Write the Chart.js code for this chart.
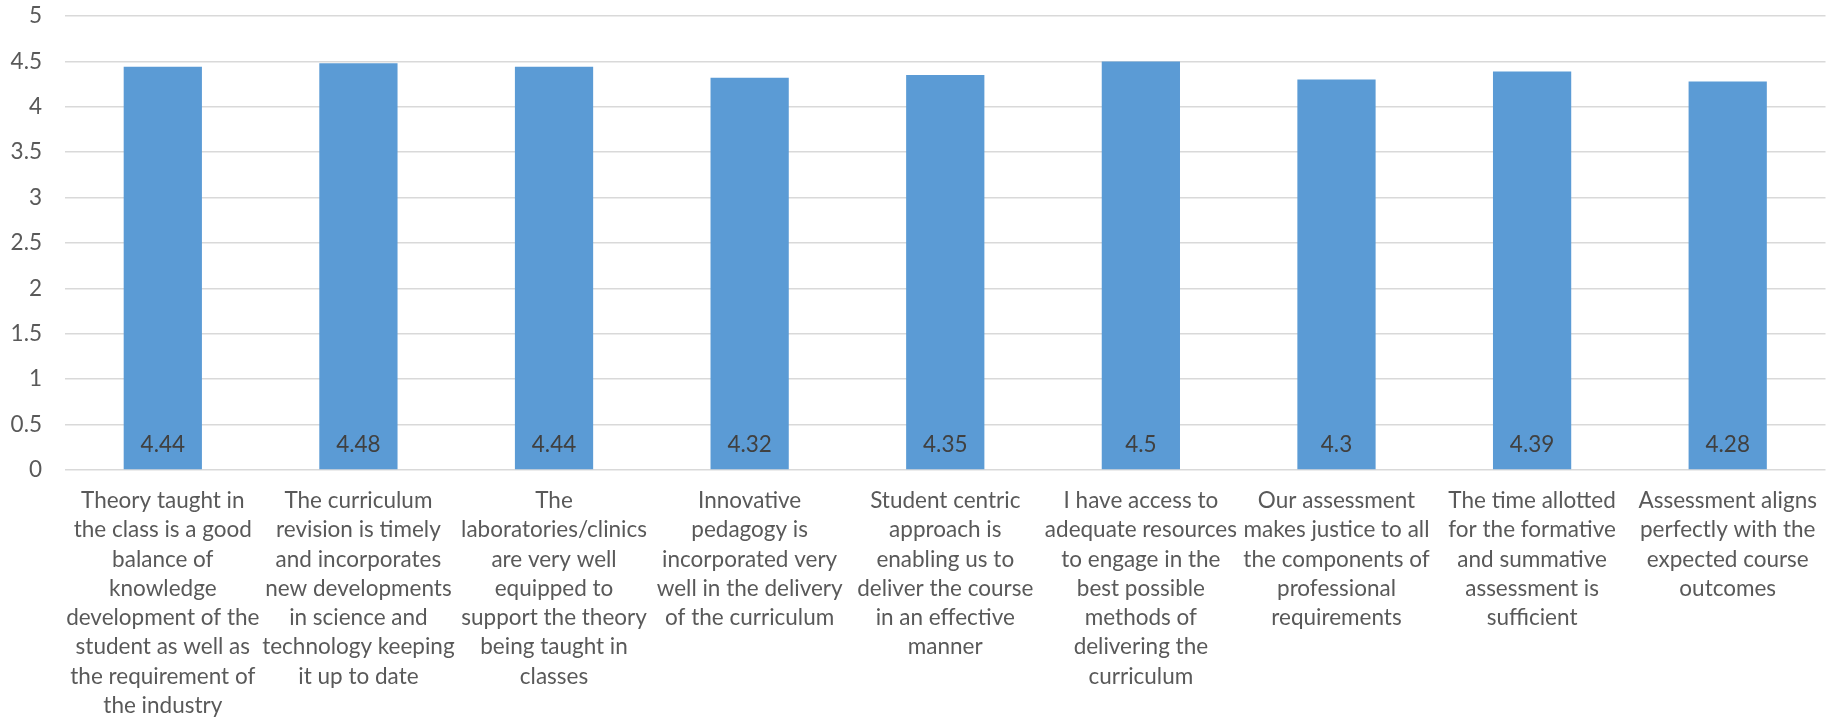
<!DOCTYPE html>
<html>
<head>
<meta charset="utf-8">
<title>Course feedback</title>
<script src="https://cdn.jsdelivr.net/npm/chart.js@4.4.1/dist/chart.umd.min.js"></script>
<style>
    html, body { margin: 0; padding: 0; background: #ffffff; }
    #wrap { width: 1833px; height: 719px; position: relative; }
</style>
</head>
<body>
<div id="wrap"><canvas id="feedbackChart"></canvas></div>
<script>
// categories (already wrapped the same way as the picture)
const categories = [
    ['Theory taught in', 'the class is a good', 'balance of', 'knowledge', 'development of the', 'student as well as', 'the requirement of', 'the industry'],
    ['The curriculum', 'revision is timely', 'and incorporates', 'new developments', 'in science and', 'technology keeping', 'it up to date'],
    ['The', 'laboratories/clinics', 'are very well', 'equipped to', 'support the theory', 'being taught in', 'classes'],
    ['Innovative', 'pedagogy is', 'incorporated very', 'well in the delivery', 'of the curriculum'],
    ['Student centric', 'approach is', 'enabling us to', 'deliver the course', 'in an effective', 'manner'],
    ['I have access to', 'adequate resources', 'to engage in the', 'best possible', 'methods of', 'delivering the', 'curriculum'],
    ['Our assessment', 'makes justice to all', 'the components of', 'professional', 'requirements'],
    ['The time allotted', 'for the formative', 'and summative', 'assessment is', 'sufficient'],
    ['Assessment aligns', 'perfectly with the', 'expected course', 'outcomes']
];

// mean scores
const scores = [4.44, 4.48, 4.44, 4.32, 4.35, 4.5, 4.3, 4.39, 4.28];

// y axis
const yMin = 0;
const yMax = 5;
const yStep = 0.5;

const FONT = 'Lato, "Open Sans", sans-serif';
const FONT_SIZE = 22.5;

// value labels at the bottom of every bar (no datalabels plugin available)
const valueLabels = {
    id: 'valueLabels',
    afterDatasetsDraw(chart) {
        const ctx = chart.ctx;
        const meta = chart.getDatasetMeta(0);
        const bottom = chart.chartArea.bottom;
        ctx.save();
        ctx.font = FONT_SIZE + 'px ' + FONT;
        ctx.fillStyle = '#404040';
        ctx.textAlign = 'center';
        ctx.textBaseline = 'middle';
        meta.data.forEach(function (bar, i) {
            ctx.fillText(String(scores[i]), bar.x, bottom - 25);
        });
        ctx.restore();
    }
};

function dibujarGrafico() {
    const ctx = document.getElementById('feedbackChart').getContext('2d');
    new Chart(ctx, {
        type: 'bar',
        data: {
            labels: categories,
            datasets: [{
                data: scores,
                backgroundColor: '#5B9BD5',
                borderWidth: 0,
                categoryPercentage: 1,
                barPercentage: 0.4
            }]
        },
        options: {
            responsive: true,
            maintainAspectRatio: false,
            animation: false,
            layout: { padding: { top: 16, right: 0, left: 0, bottom: 0 } },
            plugins: {
                legend: { display: false },
                tooltip: { enabled: false }
            },
            scales: {
                x: {
                    grid: { display: false, drawTicks: false },
                    border: { display: false },
                    ticks: {
                        autoSkip: false,
                        maxRotation: 0,
                        minRotation: 0,
                        padding: 16,
                        color: '#595959',
                        font: { family: FONT, size: FONT_SIZE, lineHeight: '29.3px' }
                    },
                    afterFit(scale) { scale.height = 249; }
                },
                y: {
                    min: yMin,
                    max: yMax,
                    grid: { color: '#D9D9D9', lineWidth: 1.5, drawTicks: false },
                    border: { display: false },
                    ticks: {
                        stepSize: yStep,
                        padding: 23,
                        color: '#595959',
                        font: { family: FONT, size: FONT_SIZE },
                        callback: function (v) { return String(Number(v)); }
                    },
                    afterFit(scale) {
                        scale.width = 65;
                        scale.paddingTop = 0;
                        scale.paddingBottom = 0;
                    }
                }
            }
        },
        plugins: [valueLabels]
    });
}

dibujarGrafico();
</script>
</body>
</html>
